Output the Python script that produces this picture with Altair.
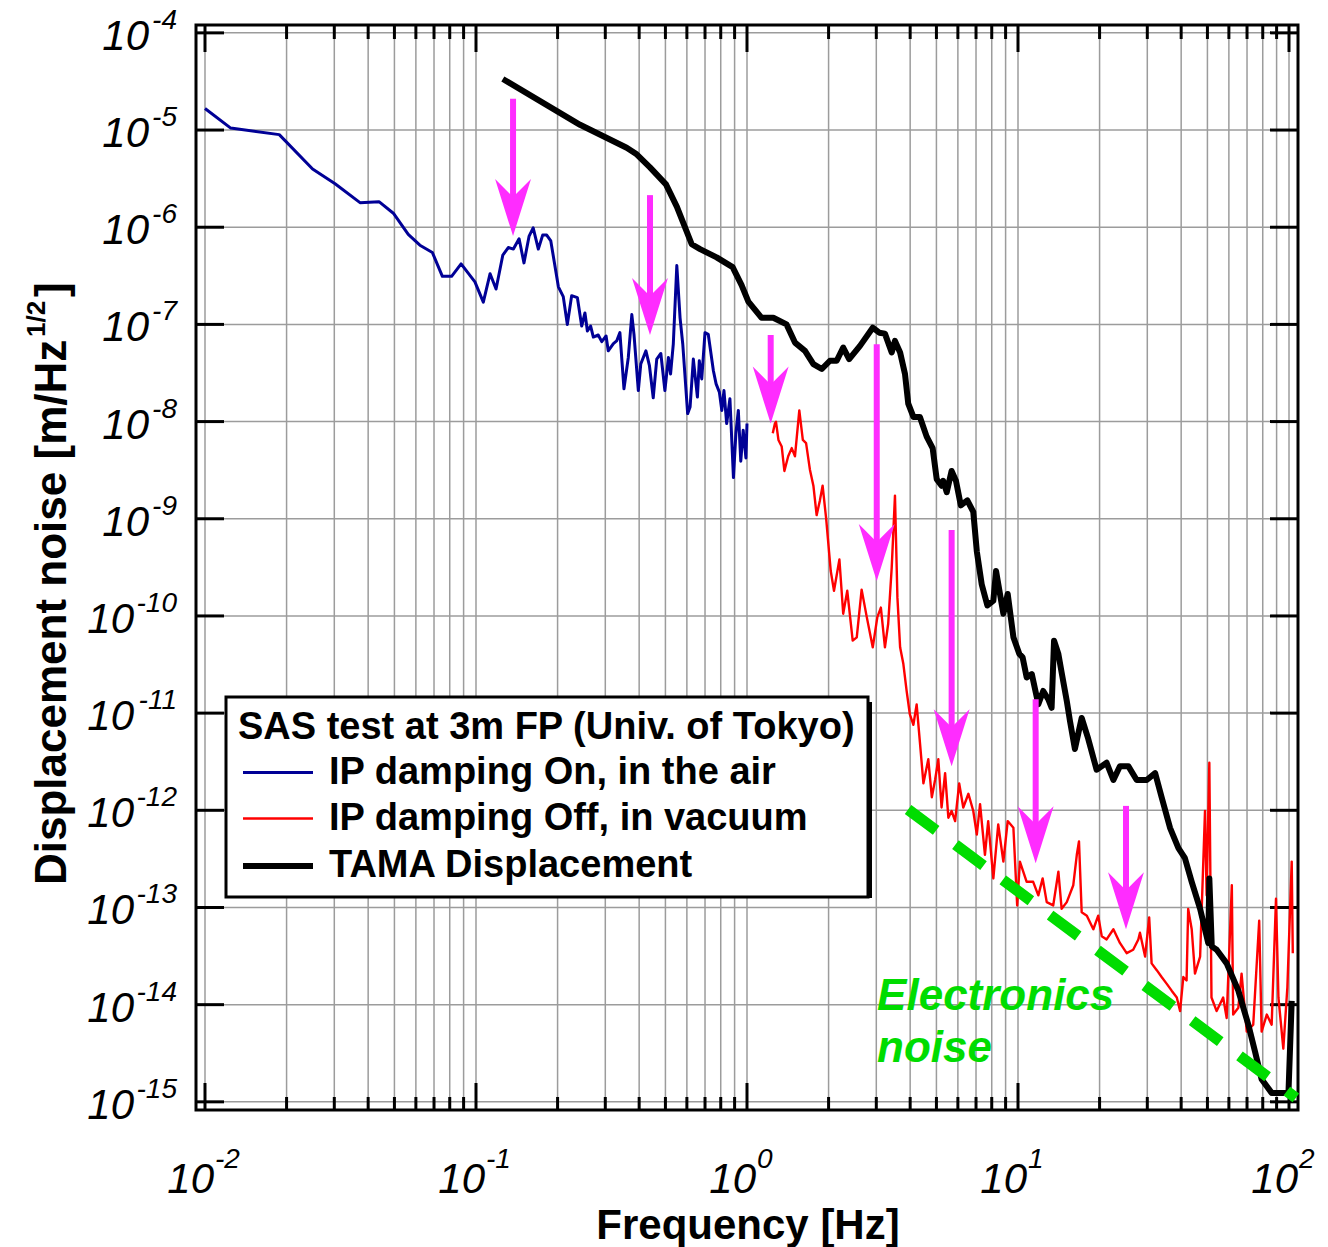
import altair as alt
import pandas as pd

FONT = "Liberation Sans"

# ---------------- data: (log10 frequency [Hz], log10 displacement [m/Hz^1/2]) ----------------
blue_pts = [
    (-2.000, -4.778), (-1.905, -4.980), (-1.726, -5.047), (-1.603, -5.401), (-1.520, -5.553),
    (-1.428, -5.747), (-1.358, -5.737), (-1.305, -5.856), (-1.250, -6.074), (-1.207, -6.185),
    (-1.161, -6.260), (-1.124, -6.505), (-1.090, -6.505), (-1.055, -6.377), (-1.004, -6.563),
    (-0.973, -6.771), (-0.948, -6.478), (-0.926, -6.636), (-0.901, -6.286), (-0.881, -6.209),
    (-0.862, -6.225), (-0.841, -6.118), (-0.823, -6.367), (-0.804, -6.091), (-0.789, -6.007),
    (-0.770, -6.225), (-0.754, -6.081), (-0.739, -6.081), (-0.724, -6.141), (-0.696, -6.613),
    (-0.678, -6.714), (-0.663, -7.000), (-0.647, -6.704), (-0.626, -6.724), (-0.610, -7.017),
    (-0.598, -6.882), (-0.589, -7.068), (-0.577, -7.017), (-0.567, -7.130), (-0.549, -7.109),
    (-0.536, -7.177), (-0.520, -7.119), (-0.512, -7.272), (-0.493, -7.197), (-0.481, -7.170),
    (-0.469, -7.085), (-0.454, -7.663), (-0.438, -7.340), (-0.425, -6.899), (-0.417, -7.102),
    (-0.401, -7.681), (-0.392, -7.408), (-0.373, -7.272), (-0.360, -7.425), (-0.346, -7.755),
    (-0.333, -7.357), (-0.318, -7.299), (-0.303, -7.681), (-0.290, -7.340), (-0.282, -7.510),
    (-0.272, -7.204), (-0.259, -6.394), (-0.247, -6.932), (-0.237, -7.204), (-0.219, -7.918),
    (-0.210, -7.850), (-0.198, -7.357), (-0.183, -7.748), (-0.176, -7.374), (-0.167, -7.561),
    (-0.155, -7.085), (-0.143, -7.102), (-0.124, -7.477), (-0.114, -7.612), (-0.102, -7.697),
    (-0.093, -7.885), (-0.085, -7.681), (-0.075, -8.020), (-0.063, -7.765), (-0.050, -8.576),
    (-0.041, -8.121), (-0.032, -7.885), (-0.023, -8.407), (-0.014, -8.088), (-0.004, -8.374),
    (0.000, -8.020),
]

red_pts = [
    (0.095, -8.121), (0.103, -8.020), (0.107, -8.003), (0.116, -8.189), (0.128, -8.256),
    (0.138, -8.508), (0.152, -8.357), (0.165, -8.273), (0.177, -8.357), (0.193, -7.885),
    (0.206, -8.189), (0.218, -8.222), (0.232, -8.492), (0.245, -8.660), (0.257, -8.963),
    (0.269, -8.811), (0.279, -8.660), (0.292, -8.997), (0.309, -9.538), (0.321, -9.741),
    (0.341, -9.419), (0.355, -9.977), (0.370, -9.741), (0.390, -10.254), (0.405, -10.220),
    (0.423, -9.729), (0.442, -10.012), (0.464, -10.323), (0.481, -10.012), (0.494, -9.914),
    (0.509, -10.323), (0.521, -10.080), (0.534, -9.503), (0.546, -8.762), (0.555, -9.809),
    (0.565, -10.323), (0.577, -10.495), (0.589, -10.772), (0.601, -11.014), (0.614, -11.120),
    (0.626, -10.910), (0.638, -11.298), (0.651, -11.723), (0.669, -11.475), (0.682, -11.865),
    (0.694, -11.688), (0.706, -11.475), (0.718, -11.971), (0.731, -11.617), (0.743, -12.076),
    (0.755, -12.007), (0.768, -12.111), (0.783, -11.723), (0.798, -11.971), (0.817, -11.830),
    (0.835, -12.007), (0.848, -12.250), (0.860, -11.936), (0.878, -12.458), (0.890, -12.111),
    (0.909, -12.701), (0.927, -12.146), (0.946, -12.528), (0.962, -12.111), (0.983, -12.180),
    (0.997, -12.979), (1.007, -12.528), (1.032, -12.736), (1.056, -12.736), (1.075, -12.875),
    (1.091, -12.701), (1.106, -12.945), (1.130, -12.979), (1.149, -12.632), (1.161, -13.014),
    (1.180, -12.945), (1.204, -12.771), (1.217, -12.458), (1.225, -12.320), (1.235, -13.049),
    (1.254, -13.084), (1.278, -13.224), (1.296, -13.084), (1.309, -13.295), (1.327, -13.329),
    (1.352, -13.224), (1.376, -13.365), (1.401, -13.470), (1.425, -13.435), (1.444, -13.329),
    (1.450, -13.260), (1.469, -13.505), (1.484, -13.102), (1.493, -13.575), (1.512, -13.645),
    (1.530, -13.716), (1.549, -13.786), (1.567, -13.856), (1.586, -13.926), (1.598, -14.066),
    (1.610, -13.716), (1.622, -13.751), (1.628, -13.014), (1.641, -13.224), (1.653, -13.681),
    (1.672, -13.505), (1.690, -12.007), (1.696, -12.875), (1.706, -11.511), (1.714, -13.926),
    (1.733, -14.066), (1.757, -13.926), (1.770, -14.137), (1.789, -12.771), (1.794, -14.102),
    (1.813, -14.032), (1.825, -13.681), (1.844, -14.277), (1.868, -14.207), (1.890, -13.137),
    (1.899, -14.277), (1.918, -14.102), (1.936, -14.207), (1.952, -12.910), (1.961, -13.926),
    (1.979, -14.453), (1.994, -13.821), (2.010, -12.528), (2.014, -13.470),
]

black_pts = [
    (-0.901, -4.475), (-0.616, -4.946), (-0.444, -5.182), (-0.407, -5.250), (-0.358, -5.384),
    (-0.299, -5.559), (-0.259, -5.788), (-0.204, -6.175), (-0.173, -6.225), (-0.112, -6.310),
    (-0.053, -6.411), (-0.020, -6.596), (0.005, -6.765), (0.054, -6.932), (0.097, -6.932),
    (0.146, -7.000), (0.177, -7.187), (0.214, -7.272), (0.245, -7.408), (0.276, -7.459),
    (0.306, -7.374), (0.331, -7.374), (0.355, -7.238), (0.377, -7.357), (0.417, -7.221),
    (0.464, -7.034), (0.488, -7.085), (0.509, -7.095), (0.534, -7.289), (0.546, -7.170),
    (0.565, -7.289), (0.583, -7.510), (0.595, -7.816), (0.614, -7.952), (0.638, -7.952),
    (0.663, -8.155), (0.685, -8.273), (0.700, -8.593), (0.718, -8.660), (0.724, -8.609),
    (0.737, -8.727), (0.755, -8.508), (0.771, -8.609), (0.789, -8.862), (0.813, -8.811),
    (0.835, -8.929), (0.848, -9.335), (0.866, -9.673), (0.887, -9.893), (0.909, -9.843),
    (0.919, -9.538), (0.946, -9.977), (0.962, -9.774), (0.983, -10.219), (1.005, -10.391),
    (1.017, -10.426), (1.032, -10.633), (1.051, -10.598), (1.075, -10.909), (1.093, -10.772),
    (1.112, -10.858), (1.124, -10.945), (1.133, -10.254), (1.149, -10.392), (1.161, -10.582),
    (1.180, -10.876), (1.192, -11.085), (1.210, -11.369), (1.235, -11.050), (1.259, -11.263),
    (1.290, -11.582), (1.327, -11.511), (1.352, -11.688), (1.376, -11.546), (1.407, -11.546),
    (1.438, -11.688), (1.475, -11.688), (1.506, -11.617), (1.530, -11.865), (1.561, -12.180),
    (1.592, -12.389), (1.616, -12.493), (1.641, -12.736), (1.672, -13.014), (1.702, -13.365),
    (1.706, -12.701), (1.715, -13.400), (1.733, -13.435), (1.770, -13.575), (1.813, -13.856),
    (1.850, -14.207), (1.875, -14.487), (1.899, -14.768), (1.936, -14.908), (1.967, -14.908),
    (1.998, -14.908), (2.010, -13.961),
]

series_names = ["IP damping On, in the air", "IP damping Off, in vacuum", "TAMA Displacement"]
series_colors = ["#000096", "#ff0000", "#000000"]
series_widths = [3.0, 2.4, 6.0]
legend_title = "SAS test at 3m FP (Univ. of Tokyo)"

# magenta arrows (frequency, start level, tip level)
arrow_freq = [0.137, 0.4385, 1.223, 3.011, 5.69, 11.62, 25.03]
arrow_top = [2.10e-5, 2.14e-6, 7.78e-8, 6.25e-8, 7.67e-10, 1.39e-11, 1.11e-12]
arrow_tip = [8.11e-7, 7.78e-8, 9.55e-9, 2.29e-10, 2.84e-12, 2.85e-13, 5.97e-14]

# electronics noise line and its label
elec_freq = [3.93, 106.0]
elec_level = [1.02e-12, 1.10e-15]
elec_text = ["Electronics", "noise"]
elec_text_freq = [3.02, 3.02]
elec_text_level = [8.81e-15, 2.57e-15]

# axes
x_decades = [1e-2, 1e-1, 1e0, 1e1, 1e2]
x_exponents = ["-2", "-1", "0", "1", "2"]
x_minor = [m * d for d in [1e-2, 1e-1, 1e0, 1e1] for m in range(2, 10)]
y_decades = [1e-4, 1e-5, 1e-6, 1e-7, 1e-8, 1e-9, 1e-10, 1e-11, 1e-12, 1e-13, 1e-14, 1e-15]
y_exponents = ["-4", "-5", "-6", "-7", "-8", "-9", "-10", "-11", "-12", "-13", "-14", "-15"]
x_title = "Frequency [Hz]"
y_title = "Displacement noise [m/Hz"
y_title_sup = "1/2"

# ---------------- frames ----------------
rows = []
for name, pts in zip(series_names, [blue_pts, red_pts, black_pts]):
    for lf, lv in pts:
        rows.append({"f": 10 ** lf, "v": 10 ** lv, "series": name})
lines_df = pd.DataFrame(rows)
arrows_df = pd.DataFrame({"f": arrow_freq, "top": arrow_top, "tip": arrow_tip})
elec_df = pd.DataFrame({"f": elec_freq, "v": elec_level})
elec_txt_df = pd.DataFrame({"f": elec_text_freq, "v": elec_text_level, "t": elec_text})
xl_df = pd.DataFrame({"f": x_decades, "e": x_exponents})
yl_df = pd.DataFrame({"v": y_decades, "e": y_exponents})
yl_df["long"] = yl_df["e"].str.len() > 2
xmaj_df = pd.DataFrame({"f": x_decades})
xmin_df = pd.DataFrame({"f": x_minor})
xall_df = pd.DataFrame({"f": x_decades + x_minor})
ymaj_df = pd.DataFrame({"v": y_decades})
one = pd.DataFrame({"k": [0]})

W, H = 1102, 1085
xs = alt.Scale(type="log", domain=[10 ** -2.0332, 10 ** 2.0332], nice=False)
ys = alt.Scale(type="log", domain=[10 ** -15.084, 10 ** -3.919], nice=False)


def X(field="f"):
    return alt.X(f"{field}:Q", scale=xs, axis=None)


def Y(field="v"):
    return alt.Y(f"{field}:Q", scale=ys, axis=None)


GRID = "#9c9c9c"
grid_x = alt.Chart(xall_df).mark_rule(color=GRID, strokeWidth=1.5).encode(x=X(), y=alt.value(0), y2=alt.value(H))
grid_y = alt.Chart(ymaj_df).mark_rule(color=GRID, strokeWidth=1.5).encode(y=Y(), x=alt.value(0), x2=alt.value(W))

TICK = dict(color="black", strokeWidth=3)
bottom_major = alt.Chart(xmaj_df).mark_rule(**TICK).encode(x=X(), y=alt.value(H), y2=alt.value(H - 27))
bottom_minor = alt.Chart(xmin_df).mark_rule(**TICK).encode(x=X(), y=alt.value(H), y2=alt.value(H - 13))
top_major = alt.Chart(xmaj_df).mark_rule(**TICK).encode(x=X(), y=alt.value(0), y2=alt.value(27))
top_minor = alt.Chart(xmin_df).mark_rule(**TICK).encode(x=X(), y=alt.value(0), y2=alt.value(14))
left_major = alt.Chart(ymaj_df).mark_rule(**TICK).encode(y=Y(), x=alt.value(0), x2=alt.value(28))
right_major = alt.Chart(ymaj_df).mark_rule(**TICK).encode(y=Y(), x=alt.value(W), x2=alt.value(W - 28))

# tick labels (10 with raised exponent)
LBL = dict(font=FONT, fontStyle="italic", color="black")
xl_base = alt.Chart(xl_df).mark_text(fontSize=42, align="right", baseline="alphabetic", dx=9, text="10", **LBL).encode(
    x=X(), y=alt.value(H + 83))
xl_exp = alt.Chart(xl_df).mark_text(fontSize=28, align="left", baseline="alphabetic", dx=10, **LBL).encode(
    x=X(), y=alt.value(H + 58), text="e:N")
yl_base_s = alt.Chart(yl_df).transform_filter("!datum.long").mark_text(
    fontSize=42, align="right", baseline="alphabetic", dy=17, text="10", **LBL).encode(y=Y(), x=alt.value(-47))
yl_base_l = alt.Chart(yl_df).transform_filter("datum.long").mark_text(
    fontSize=42, align="right", baseline="alphabetic", dy=17, text="10", **LBL).encode(y=Y(), x=alt.value(-62))
yl_exp = alt.Chart(yl_df).mark_text(fontSize=28, align="right", baseline="alphabetic", dy=-4, **LBL).encode(
    y=Y(), x=alt.value(-19), text="e:N")

# axis titles
xt = alt.Chart(one).mark_text(font=FONT, fontSize=42, fontWeight="bold", color="black", align="center",
                              baseline="alphabetic", text=x_title).encode(
    x=alt.value(W / 2 + 1), y=alt.value(H + 129))
YT_X, YT_Y = -130, 860
TT = dict(font=FONT, fontWeight="bold", color="black", angle=270, align="left", baseline="alphabetic")
yt_main = alt.Chart(one).mark_text(fontSize=44, text=y_title, **TT).encode(x=alt.value(YT_X), y=alt.value(YT_Y))
yt_sup = alt.Chart(one).mark_text(fontSize=26, text=y_title_sup, dx=548, dy=-21, **TT).encode(
    x=alt.value(YT_X), y=alt.value(YT_Y))
yt_end = alt.Chart(one).mark_text(fontSize=44, text="]", dx=588, **TT).encode(x=alt.value(YT_X), y=alt.value(YT_Y))

# data lines + legend
LEG_X, LEG_Y, LEG_W, LEG_H = 30, 672, 641, 196
legend = alt.Legend(orient="none", legendX=LEG_X, legendY=LEG_Y, title=legend_title,
                    titleFont=FONT, titleFontSize=38, titleFontWeight="bold", titleColor="black",
                    titleLimit=0, titlePadding=5,
                    labelFont=FONT, labelFontSize=38, labelFontWeight="bold", labelColor="black",
                    labelLimit=0, labelOffset=29, symbolOffset=18,
                    symbolType="M-1.842,0L1.842,0", symbolSize=1444,
                    padding=12, rowPadding=6, fillColor="white", strokeColor="black")
shadow = alt.Chart(one).mark_rect(color="black").encode(
    x=alt.value(LEG_X + 5), x2=alt.value(LEG_X + LEG_W + 5),
    y=alt.value(LEG_Y + 5), y2=alt.value(LEG_Y + LEG_H + 5))
lines = alt.Chart(lines_df).mark_line(strokeJoin="round").encode(
    x=X(), y=Y(),
    color=alt.Color("series:N", scale=alt.Scale(domain=series_names, range=series_colors), legend=legend),
    strokeWidth=alt.StrokeWidth("series:N", scale=alt.Scale(type="ordinal", domain=series_names, range=series_widths),
                                legend=legend),
)

MAG = "#ff2cff"
arrow_shaft = alt.Chart(arrows_df).mark_rule(color=MAG, strokeWidth=6, y2Offset=-32).encode(
    x=X(), y=Y("top"), y2="tip:Q")
arrow_head = alt.Chart(arrows_df).mark_point(
    shape="M0,1L-0.63,-1L0,-0.37L0.63,-1Z", size=3249, filled=True, color=MAG, opacity=1,
    strokeWidth=0, yOffset=-28.5).encode(x=X(), y=Y("tip"))

GREEN = "#00dc00"
elec_line = alt.Chart(elec_df).mark_line(color=GREEN, strokeWidth=11, strokeDash=[35, 24], strokeCap="butt").encode(
    x=X(), y=Y())
elec_label = alt.Chart(elec_txt_df).mark_text(font=FONT, fontSize=44, fontWeight="bold", fontStyle="italic",
                                              color=GREEN, align="left", baseline="alphabetic").encode(
    x=X(), y=Y(), text="t:N")

chart = alt.layer(
    grid_x, grid_y, bottom_major, bottom_minor, top_major, top_minor, left_major, right_major,
    shadow, lines, arrow_shaft, arrow_head, elec_line, elec_label,
    xl_base, xl_exp, yl_base_s, yl_base_l, yl_exp, xt, yt_main, yt_sup, yt_end,
).properties(
    width=W, height=H,
    autosize=alt.AutoSizeParams(type="none"),
    padding={"left": 196, "top": 25, "right": 30, "bottom": 137},
    background="white",
).configure_view(stroke="black", strokeWidth=3).configure_legend(strokeWidth=3)

chart.save("out.html", embed_options={"renderer": "svg", "actions": False})
